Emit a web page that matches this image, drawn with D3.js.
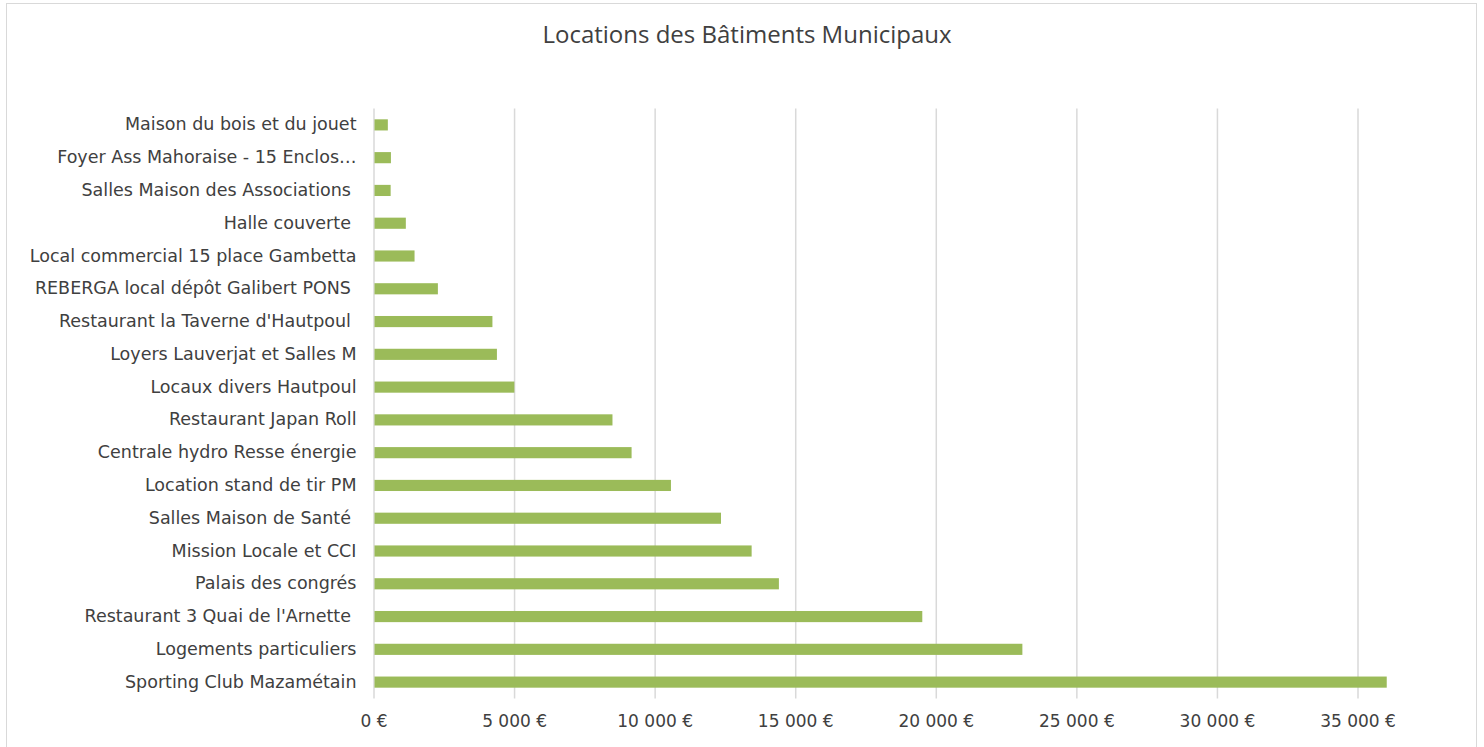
<!DOCTYPE html>
<html><head><meta charset="utf-8">
<script src="https://cdn.jsdelivr.net/npm/d3@7"></script>
<style>
html,body{margin:0;padding:0;background:#fff;}
svg text{white-space:pre;}
</style></head>
<body>
<svg id="chart" width="1484" height="747"></svg>
<script>
const categories = [
  "Maison du bois et du jouet",
  "Foyer Ass Mahoraise - 15 Enclos…",
  "Salles Maison des Associations ",
  "Halle couverte ",
  "Local commercial 15 place Gambetta",
  "REBERGA local dépôt Galibert PONS ",
  "Restaurant la Taverne d'Hautpoul ",
  "Loyers Lauverjat et Salles M",
  "Locaux divers Hautpoul",
  "Restaurant Japan Roll",
  "Centrale hydro Resse énergie",
  "Location stand de tir PM",
  "Salles Maison de Santé ",
  "Mission Locale et CCI",
  "Palais des congrés",
  "Restaurant 3 Quai de l'Arnette ",
  "Logements particuliers",
  "Sporting Club Mazamétain"
];
const values = [510, 620, 610, 1150, 1460, 2290, 4230, 4390, 5010, 8500, 9180, 10580, 12360, 13450, 14420, 19520, 23080, 36040];
const tickValues = [0, 5000, 10000, 15000, 20000, 25000, 30000, 35000];
const title = "Locations des Bâtiments Municipaux";

const svg = d3.select("#chart");
svg.append("rect").attr("x",6.5).attr("y",3.5).attr("width",1470).attr("height",750)
  .attr("fill","#fff").attr("stroke","#d9d9d9").attr("stroke-width",1);

const x = d3.scaleLinear().domain([0,35000]).range([373.5,1357.5]);
const y = d3.scaleBand().domain(categories).range([108.5,698.5]).paddingInner(0.66).paddingOuter(0.33);

svg.append("text").attr("x",747).attr("y",43).attr("text-anchor","middle")
  .attr("font-family","'Open Sans', 'Noto Sans', sans-serif").attr("font-size",24)
  .attr("fill","#404040").text(title);

const fmt = v => (v===0 ? "0" : d3.format(",")(v).replace(/,/g," ")) + " €";

const xAxis = svg.append("g").attr("transform","translate(0,698.5)")
  .call(d3.axisBottom(x).tickValues(tickValues).tickSize(-590).tickFormat(fmt).tickPadding(16));
xAxis.select(".domain").remove();
xAxis.selectAll(".tick line").attr("stroke","#d9d9d9").attr("stroke-width",1.5);
xAxis.selectAll(".tick text").attr("font-family","'DejaVu Sans', Verdana, sans-serif")
  .attr("font-size",17).attr("fill","#404040");

svg.append("g").selectAll("rect").data(values).join("rect")
  .attr("x",x(0)+1).attr("y",(d,i)=>y(categories[i]))
  .attr("width",d=>x(d)-x(0)-1).attr("height",y.bandwidth())
  .attr("fill","#9bbb59");

const yAxis = svg.append("g").attr("transform","translate(373.5,0)")
  .call(d3.axisLeft(y).tickSize(0).tickPadding(17));
yAxis.select(".domain").remove();
yAxis.selectAll(".tick text").attr("font-family","'DejaVu Sans', Verdana, sans-serif")
  .attr("font-size",17.5).attr("fill","#404040");
</script>
</body></html>
